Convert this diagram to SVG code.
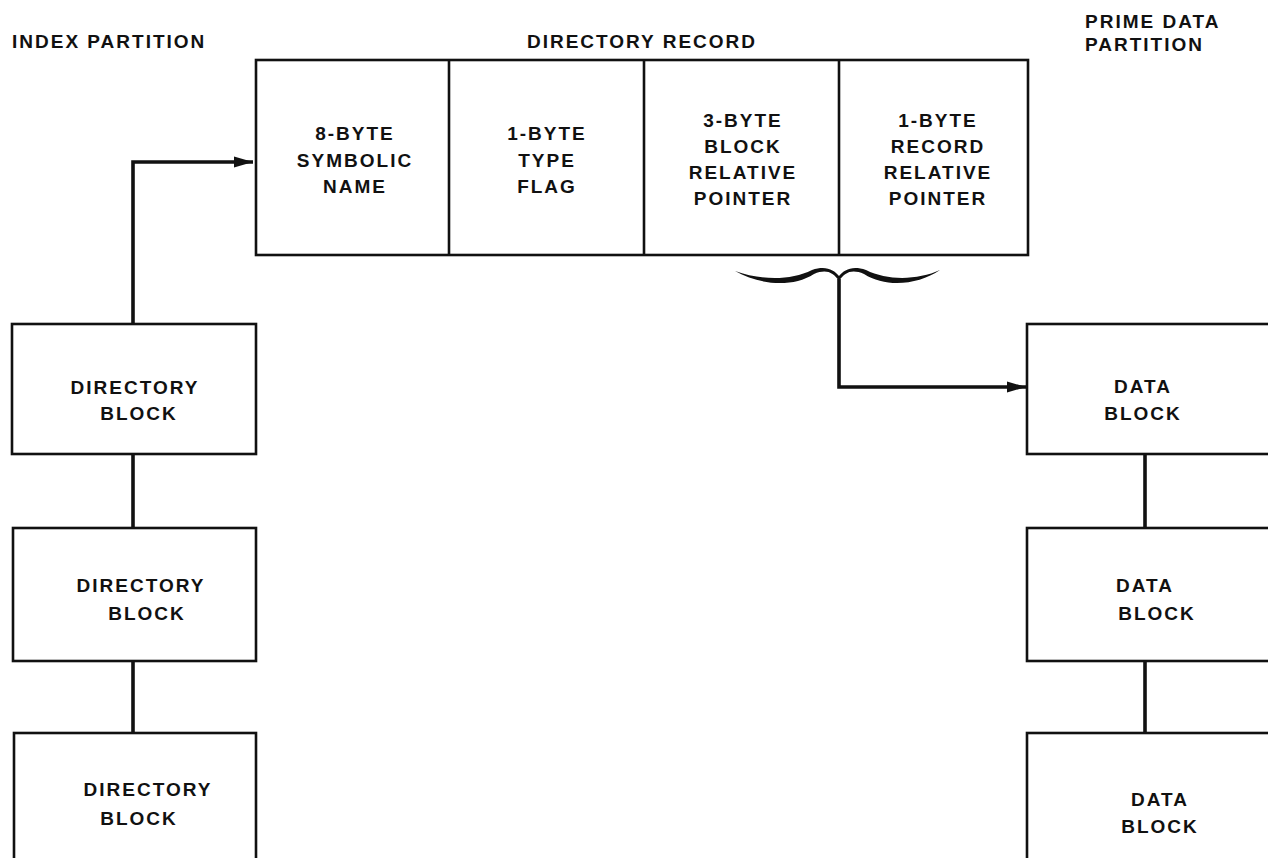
<svg xmlns="http://www.w3.org/2000/svg" width="1268" height="858" viewBox="0 0 1268 858">
<style>
text{font-family:"Liberation Sans",Arial,Helvetica,sans-serif;font-weight:bold;font-size:19px;letter-spacing:2px;fill:#111}
.c{text-anchor:middle}
.box{fill:#fff;stroke:#111;stroke-width:2.6}
.ln{fill:none;stroke:#111;stroke-width:3.6}
</style>
<defs>
<marker id="ah" markerWidth="20" markerHeight="12" refX="19" refY="6" orient="auto" markerUnits="userSpaceOnUse">
<path d="M0,0.5 L19,6 L0,11.5 Z" fill="#111"/>
</marker>
</defs>
<rect width="1268" height="858" fill="#fff"/>
<g id="labels">
<text x="12" y="48">INDEX PARTITION</text>
<text class="c" x="642" y="48">DIRECTORY RECORD</text>
<text x="1085" y="28">PRIME DATA</text>
<text x="1085" y="51">PARTITION</text>
</g>
<g id="directory-record">
<rect class="box" x="256" y="60" width="772" height="195"/>
<line class="box" x1="449" y1="60" x2="449" y2="255"/>
<line class="box" x1="644" y1="60" x2="644" y2="255"/>
<line class="box" x1="839" y1="60" x2="839" y2="255"/>
<text class="c" x="355" y="140">8-BYTE</text>
<text class="c" x="355" y="167">SYMBOLIC</text>
<text class="c" x="355" y="193">NAME</text>
<text class="c" x="547" y="140">1-BYTE</text>
<text class="c" x="547" y="167">TYPE</text>
<text class="c" x="547" y="193">FLAG</text>
<text class="c" x="743" y="127">3-BYTE</text>
<text class="c" x="743" y="153">BLOCK</text>
<text class="c" x="743" y="179">RELATIVE</text>
<text class="c" x="743" y="205">POINTER</text>
<text class="c" x="938" y="127">1-BYTE</text>
<text class="c" x="938" y="153">RECORD</text>
<text class="c" x="938" y="179">RELATIVE</text>
<text class="c" x="938" y="205">POINTER</text>
</g>
<g id="brace">
<path d="M735,271 C760,280 790,281 812,270 C826,265 834,270 839,276 C844,270 852,265 866,270 C888,281 918,280 940,270 C918,285 886,288 864,274 C852,269 845,272 839,281 C833,272 826,269 814,274 C792,288 760,285 735,271 Z" fill="#111"/>
</g>
<g id="dir-block-1">
<rect class="box" x="12" y="324" width="244" height="130"/>
<text class="c" x="135" y="394">DIRECTORY</text>
<text class="c" x="139" y="420">BLOCK</text>
</g>
<g id="dir-block-2">
<rect class="box" x="13" y="528" width="243" height="133"/>
<text class="c" x="141" y="592">DIRECTORY</text>
<text class="c" x="147" y="620">BLOCK</text>
</g>
<g id="dir-block-3">
<rect class="box" x="14" y="733" width="242" height="140"/>
<text class="c" x="148" y="796">DIRECTORY</text>
<text class="c" x="139" y="825">BLOCK</text>
</g>
<g id="data-block-1">
<rect class="box" x="1027" y="324" width="260" height="130"/>
<text class="c" x="1143" y="393">DATA</text>
<text class="c" x="1143" y="420">BLOCK</text>
</g>
<g id="data-block-2">
<rect class="box" x="1027" y="528" width="260" height="133"/>
<text class="c" x="1145" y="592">DATA</text>
<text class="c" x="1157" y="620">BLOCK</text>
</g>
<g id="data-block-3">
<rect class="box" x="1027" y="733" width="260" height="140"/>
<text class="c" x="1160" y="806">DATA</text>
<text class="c" x="1160" y="833">BLOCK</text>
</g>
<g id="connectors">
<path class="ln" d="M133,324 L133,162 L253,162" marker-end="url(#ah)"/>
<path class="ln" d="M839,279 L839,387 L1026,387" marker-end="url(#ah)"/>
<line class="ln" x1="133" y1="454" x2="133" y2="528"/>
<line class="ln" x1="133" y1="661" x2="133" y2="733"/>
<line class="ln" x1="1145" y1="454" x2="1145" y2="528"/>
<line class="ln" x1="1145" y1="661" x2="1145" y2="733"/>
</g>
</svg>
